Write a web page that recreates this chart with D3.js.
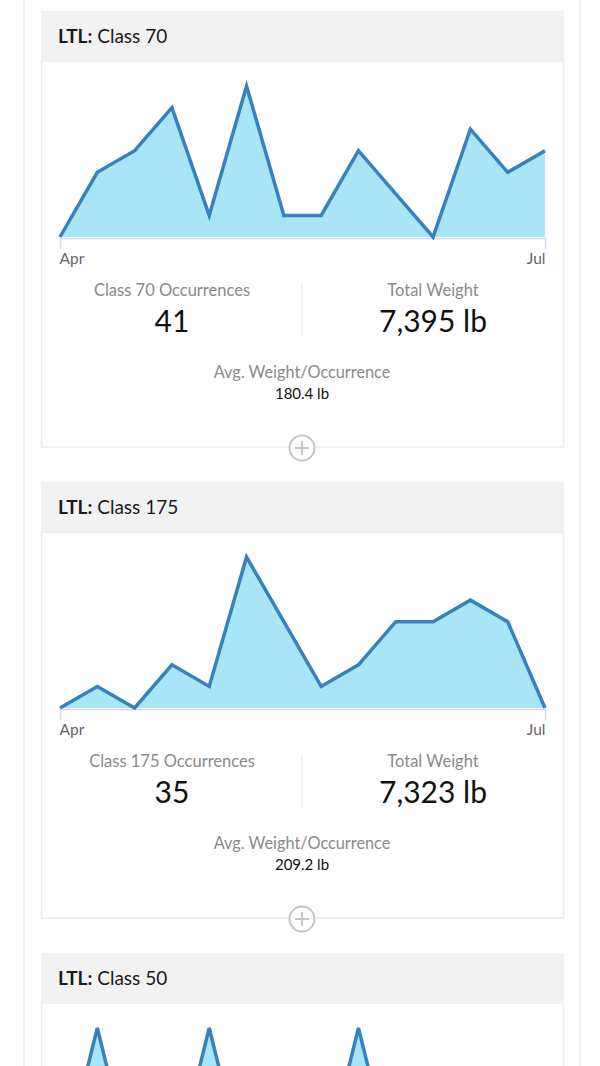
<!DOCTYPE html>
<html>
<head>
<meta charset="utf-8">
<script src="https://cdn.jsdelivr.net/npm/d3@7"></script>
<style>
  html, body { margin: 0; padding: 0; background: #fff; }
  svg { display: block; font-family: Lato, "Open Sans", sans-serif; }
</style>
</head>
<body>
<script>
// ---- data ----
const monthTicks = ["Apr", "Jul"];
const classNames = ["Class 70", "Class 175", "Class 50"];
const class70 = [0, 3, 4, 6, 1, 7, 1, 1, 4, 2, 0, 5, 3, 4];
const class175 = [0, 1, 0, 2, 1, 7, 4, 1, 2, 4, 4, 5, 4, 0];
const class50 = [0, 1, 0, 0, 1, 0, 0, 0, 1, 0, 0, 0, 0, 0];
const occurrences = ["41", "35", ""];
const totalWeights = ["7,395 lb", "7,323 lb", ""];
const avgWeights = ["180.4 lb", "209.2 lb", ""];
const seriesList = [class70, class175, class50];

const W = 600, H = 1066;
const svg = d3.select("body").append("svg").attr("width", W).attr("height", H);

// outer container borders
svg.append("line").attr("x1", 24).attr("x2", 24).attr("y1", 0).attr("y2", H)
  .attr("stroke", "#f0f0f0").attr("stroke-width", 2);
svg.append("line").attr("x1", 580).attr("x2", 580).attr("y1", 0).attr("y2", H)
  .attr("stroke", "#f0f0f0").attr("stroke-width", 2);

const cardX0 = 41, cardX1 = 564, cardStep = 471, firstTop = 11;
const headerH = 50, bodyH = 386;

const x = d3.scaleLinear().domain([0, class70.length - 1]).range([60, 545]);

seriesList.forEach((data, i) => {
  const cardTop = firstTop + i * cardStep;
  const g = svg.append("g").attr("transform", `translate(0,${cardTop})`);

  // body
  g.append("rect").attr("x", cardX0 + 0.5).attr("y", headerH).attr("width", cardX1 - cardX0 - 1)
    .attr("height", bodyH).attr("fill", "#fff").attr("stroke", "#ececec").attr("stroke-width", 1.5);
  // header
  g.append("rect").attr("x", cardX0).attr("y", 0).attr("width", cardX1 - cardX0)
    .attr("height", headerH).attr("fill", "#f2f2f2");
  const t = g.append("text").attr("x", 58).attr("y", 32).attr("font-size", 19).attr("fill", "#1a1a1a");
  t.append("tspan").attr("font-weight", 700).text("LTL:");
  t.append("tspan").text(" " + classNames[i]);

  // chart
  const base = 226, top = 75;
  const y = d3.scaleLinear().domain([0, d3.max(data)]).range([base, top]);
  const area = d3.area().x((d, j) => x(j)).y0(base).y1(d => y(d));
  const line = d3.line().x((d, j) => x(j)).y(d => y(d));
  g.append("path").datum(data).attr("d", area).attr("fill", "#a8e5f7");

  const labelsVisible = cardTop + base + 30 < H;
  const axis = d3.axisBottom(x).tickValues([0, data.length - 1])
    .tickFormat((d, j) => labelsVisible ? monthTicks[j] : "")
    .tickSize(11).tickSizeOuter(0).tickPadding(4);
  const ag = g.append("g").attr("transform", `translate(0,${base + 1})`).call(axis);
  ag.select(".domain").attr("stroke", "#d4dbef").attr("stroke-width", 1.5);
  ag.selectAll(".tick line").attr("stroke", "#d4dbef").attr("stroke-width", 1.5);
  ag.selectAll(".tick text").attr("font-size", 15.5).attr("fill", "#666")
    .attr("font-family", "Lato, sans-serif")
    .attr("text-anchor", (d, j) => j === 0 ? "start" : "end")
    .attr("dx", (d, j) => j === 0 ? -1 : 0);
  if (!labelsVisible) ag.selectAll(".tick text").remove();

  g.append("path").datum(data).attr("d", line).attr("fill", "none")
    .attr("stroke", "#3582bf").attr("stroke-width", 3.5).attr("stroke-linejoin", "miter");

  if (occurrences[i]) {
    // stats
    g.append("line").attr("x1", 302).attr("x2", 302).attr("y1", 273).attr("y2", 325)
      .attr("stroke", "#eeeeee").attr("stroke-width", 1.5);
    g.append("text").attr("x", 172).attr("y", 285).attr("text-anchor", "middle")
      .attr("font-size", 16.5).attr("fill", "#8a8a8a").text(classNames[i] + " Occurrences");
    g.append("text").attr("x", 172).attr("y", 321).attr("text-anchor", "middle")
      .attr("font-size", 30).attr("fill", "#111").text(occurrences[i]);
    g.append("text").attr("x", 433).attr("y", 285).attr("text-anchor", "middle")
      .attr("font-size", 16.5).attr("fill", "#8a8a8a").text("Total Weight");
    g.append("text").attr("x", 433).attr("y", 321).attr("text-anchor", "middle")
      .attr("font-size", 30).attr("fill", "#111").text(totalWeights[i]);
    g.append("text").attr("x", 302).attr("y", 367).attr("text-anchor", "middle")
      .attr("font-size", 16.3).attr("fill", "#8a8a8a").text("Avg. Weight/Occurrence");
    g.append("text").attr("x", 302).attr("y", 388).attr("text-anchor", "middle")
      .attr("font-size", 15).attr("fill", "#111").text(avgWeights[i]);

    // plus icon
    const cy = headerH + bodyH + 1;
    g.append("circle").attr("cx", 302).attr("cy", cy).attr("r", 12.5)
      .attr("fill", "#fff").attr("stroke", "#c6c6c6").attr("stroke-width", 2);
    g.append("line").attr("x1", 295).attr("x2", 309).attr("y1", cy).attr("y2", cy)
      .attr("stroke", "#c6c6c6").attr("stroke-width", 2);
    g.append("line").attr("x1", 302).attr("x2", 302).attr("y1", cy - 7).attr("y2", cy + 7)
      .attr("stroke", "#c6c6c6").attr("stroke-width", 2);
  }
});
</script>
</body>
</html>
